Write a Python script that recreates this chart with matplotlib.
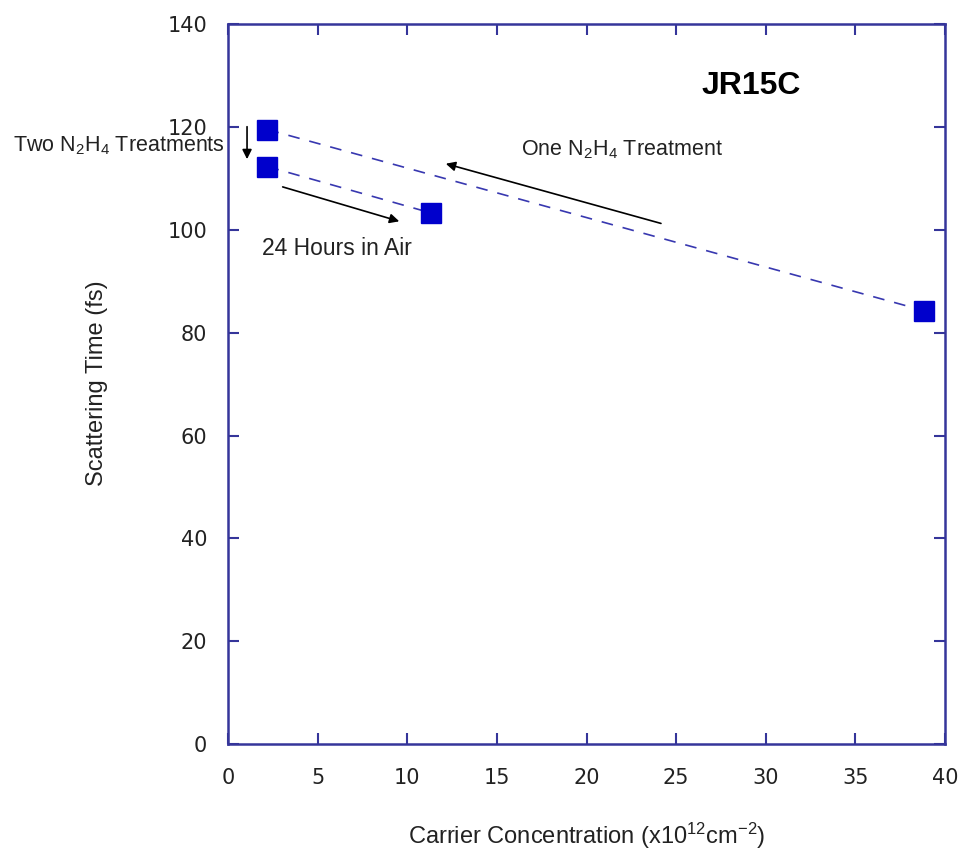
import matplotlib
matplotlib.use('Agg')
import matplotlib.pyplot as plt

plt.rcParams['font.family'] = ['Liberation Sans', 'DejaVu Sans']
plt.rcParams['mathtext.fontset'] = 'custom'
plt.rcParams['mathtext.rm'] = 'Liberation Sans'
plt.rcParams['mathtext.default'] = 'regular'

# data
one_x = [2.2, 38.8]
one_y = [119.5, 84.3]
two_x = [2.2, 11.3]
two_y = [112.3, 103.3]
pts_x = [2.2, 2.2, 11.3, 38.8]
pts_y = [119.5, 112.3, 103.3, 84.3]

frame = '#35359a'
txt = '#222222'

fig = plt.figure(figsize=(9.63, 8.56), dpi=100)
ax = fig.add_axes([0.2368, 0.1308, 0.7446, 0.841])

ax.plot(one_x, one_y, '--', color='#3838b0', lw=1.2, dashes=(7, 6))
ax.plot(two_x, two_y, '--', color='#3838b0', lw=1.2, dashes=(7, 6))
ax.plot(pts_x, pts_y, 's', color='#0000cc', ms=14, mec='#0000cc', ls='none')

ax.set_xlim(0, 40)
ax.set_ylim(0, 140)
ax.set_xticks(range(0, 41, 5))
ax.set_yticks(range(0, 141, 20))
ax.tick_params(direction='in', length=8, width=1.5, color=frame,
               top=True, right=True, labelcolor=txt)
ax.tick_params(axis='x', pad=17)
ax.tick_params(axis='y', pad=15)
for lab in ax.get_xticklabels() + ax.get_yticklabels():
    lab.set_fontfamily('DejaVu Sans')
    lab.set_fontsize(15)
for s in ax.spines.values():
    s.set_color(frame)
    s.set_linewidth(1.8)

ax.set_xlabel('Carrier Concentration (x10$^{12}$cm$^{-2}$)', fontsize=17, color=txt, va='center')
ax.xaxis.set_label_coords(0.5, -0.128)
ax.set_ylabel('Scattering Time (fs)', fontsize=17, color=txt, va='center')
ax.yaxis.set_label_coords(-0.183, 0.501)

ax.text(29.2, 128, 'JR15C', fontsize=23, fontweight='bold', ha='center', va='center')
ax.text(22.0, 115.5, 'One N$_2$H$_4$ Treatment', fontsize=15.5, ha='center', va='center', color=txt)
ax.text(6.1, 96.3, '24 Hours in Air', fontsize=16.5, ha='center', va='center', color=txt)
fig.text(0.014, 0.830, 'Two N$_2$H$_4$ Treatments', fontsize=15.5, ha='left', va='center', color=txt)

arr = dict(arrowstyle='-|>', color='black', lw=1.2, mutation_scale=14)
ax.annotate('', xy=(12.0, 113.0), xytext=(24.3, 101.1), arrowprops=arr)
ax.annotate('', xy=(9.7, 101.5), xytext=(2.9, 108.5), arrowprops=arr)
ax.annotate('', xy=(1.06, 113.2), xytext=(1.06, 120.6), arrowprops=arr, annotation_clip=False)

fig.savefig('out.png', dpi=100)
